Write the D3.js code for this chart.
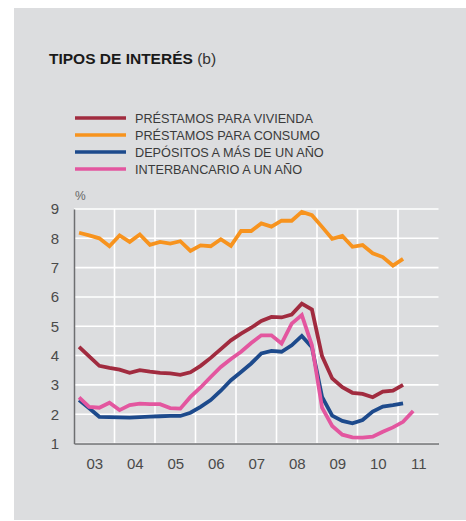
<!DOCTYPE html>
<html><head><meta charset="utf-8">
<script src="https://cdn.jsdelivr.net/npm/d3@7"></script>
<style>
html,body{margin:0;padding:0;background:#fff;}
svg{display:block;}
text{font-family:"Liberation Sans",Arial,Helvetica,sans-serif;}
</style></head>
<body>
<script>
const years = ["03","04","05","06","07","08","09","10","11"];
const yTicks = [1,2,3,4,5,6,7,8,9];
const seriesNames = ["PRÉSTAMOS PARA VIVIENDA","PRÉSTAMOS PARA CONSUMO","DEPÓSITOS A MÁS DE UN AÑO","INTERBANCARIO A UN AÑO"];
const seriesColors = ["#a12b3f","#f7931e","#1d4a8c","#e3569f"];
// quarterly values starting 2003 Q1
const vivienda = [4.30,3.97,3.65,3.58, 3.52,3.41,3.50,3.45, 3.41,3.39,3.34,3.43, 3.65,3.92,4.22,4.52, 4.75,4.95,5.18,5.32, 5.30,5.40,5.77,5.57, 3.98,3.22,2.92,2.73, 2.69,2.58,2.77,2.80, 3.00];
const consumo = [8.19,8.10,8.00,7.73, 8.10,7.88,8.13,7.78, 7.88,7.82,7.90,7.57, 7.76,7.73,7.97,7.74, 8.25,8.25,8.51,8.40, 8.60,8.60,8.90,8.79, 8.39,7.98,8.08,7.71, 7.77,7.49,7.36,7.07, 7.30];
const depositos = [2.48,2.20,1.91,1.90, 1.89,1.88,1.90,1.92, 1.93,1.94,1.94,2.05, 2.25,2.48,2.80,3.16, 3.44,3.73,4.07,4.16, 4.13,4.35,4.67,4.28, 2.59,1.95,1.77,1.69, 1.80,2.09,2.26,2.31, 2.37];
const interbancario = [2.57,2.25,2.22,2.39, 2.14,2.31,2.36,2.34, 2.34,2.21,2.19,2.59, 2.91,3.27,3.61,3.88, 4.13,4.43,4.69,4.69, 4.41,5.09,5.38,4.35, 2.22,1.60,1.30,1.21, 1.20,1.23,1.40,1.55, 1.74,2.11];
const allSeries = [vivienda, consumo, depositos, interbancario];

const W = 466, H = 521;
const svg = d3.select("body").append("svg").attr("width", W).attr("height", H);
svg.append("rect").attr("x",14).attr("y",8).attr("width",W-14).attr("height",512).attr("fill","#dcdddf");

const x = d3.scaleLinear().domain([2003, 2012]).range([74, 438.5]);
const y = d3.scaleLinear().domain([1, 9]).range([443.5, 209]);

// title
const t = svg.append("text").attr("x",49).attr("y",64).attr("font-size",15.5).attr("fill","#1a1a1a");
t.append("tspan").attr("font-weight","bold").text("TIPOS DE INTERÉS");
t.append("tspan").attr("fill","#333").text(" (b)");

// legend
seriesNames.forEach((n,i)=>{
  const ly = 118 + i*17;
  svg.append("line").attr("x1",75).attr("x2",126).attr("y1",ly).attr("y2",ly)
    .attr("stroke",seriesColors[i]).attr("stroke-width",3.5);
  svg.append("text").attr("x",135).attr("y",ly+5).attr("font-size",12.7).attr("fill","#3a3a3a").text(n);
});
svg.append("text").attr("x",75).attr("y",200).attr("font-size",12).attr("fill","#666").text("%");

// grid
const g = svg.append("g");
g.selectAll(".hg").data(yTicks).join("line")
  .attr("x1",x(2003)).attr("x2",x(2012)).attr("y1",d=>y(d)).attr("y2",d=>y(d))
  .attr("stroke","#fff").attr("stroke-width",1.6);
g.selectAll(".vg").data(d3.range(2004,2012)).join("line")
  .attr("x1",d=>x(d)).attr("x2",d=>x(d)).attr("y1",y(9)).attr("y2",y(1))
  .attr("stroke","#fff").attr("stroke-width",1.6);

// axes
const yAxis = d3.axisLeft(y).tickValues(yTicks).tickSize(0).tickPadding(15).tickFormat(d3.format("d"));
const ya = svg.append("g").attr("transform",`translate(${x(2003)},0)`).call(yAxis);
ya.select(".domain").attr("stroke","#6d6e70").attr("stroke-width",1.5);
ya.selectAll("text").attr("font-size",15).attr("fill","#4a4a4a").attr("font-family","'Liberation Sans',Arial,sans-serif");

const xAxis = d3.axisBottom(x).tickValues(years.map((d,i)=>2003.5+i)).tickSize(0).tickPadding(15)
  .tickFormat((d,i)=>years[i]);
const xa = svg.append("g").attr("transform",`translate(0,${y(1)})`).call(xAxis);
xa.select(".domain").attr("stroke","#6d6e70").attr("stroke-width",1.5);
xa.selectAll("text").attr("font-size",15).attr("fill","#4a4a4a").attr("font-family","'Liberation Sans',Arial,sans-serif");

// lines
const line = d3.line().x((d,i)=>x(2003 + (i+0.5)/4)).y(d=>y(d));
[1,0,2,3].forEach(k=>{
  svg.append("path").datum(allSeries[k]).attr("d",line).attr("fill","none")
    .attr("stroke",seriesColors[k]).attr("stroke-width",3.8).attr("stroke-linejoin","miter");
});
</script>
</body></html>
